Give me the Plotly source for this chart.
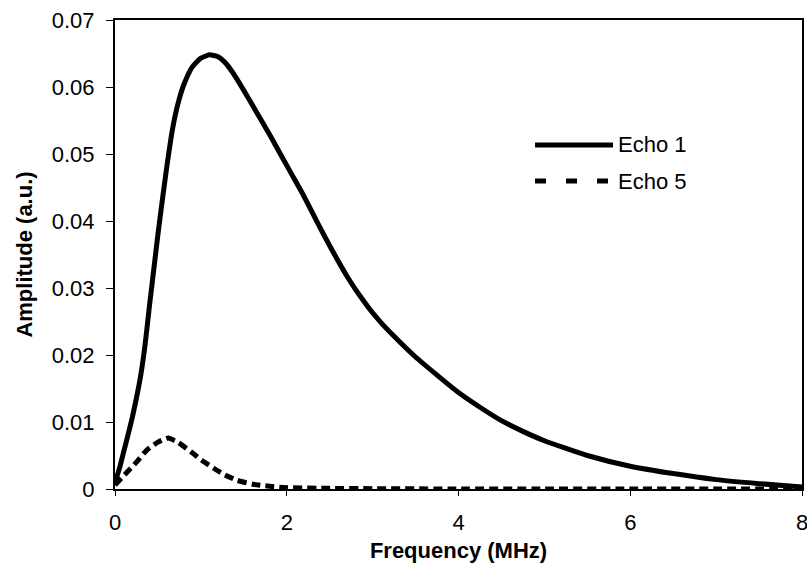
import plotly.graph_objects as go

# Echo 1 (solid)
freq1 = [0, 0.05, 0.1, 0.15, 0.2, 0.25, 0.3, 0.35, 0.4, 0.45, 0.5, 0.55, 0.6, 0.65, 0.7,
         0.75, 0.8, 0.9, 1.0, 1.1, 1.2, 1.3, 1.4, 1.5, 1.6, 1.7, 1.8, 1.9, 2.0, 2.1, 2.2,
         2.3, 2.4, 2.5, 2.6, 2.7, 2.8, 2.9, 3.0, 3.1, 3.25, 3.5, 3.75, 4.0, 4.25, 4.5,
         4.75, 5.0, 5.5, 6.0, 6.5, 7.0, 7.5, 8.0]
echo1 = [0.0010, 0.0030, 0.0055, 0.0080, 0.0106, 0.0136, 0.0170, 0.0215, 0.0272, 0.0326,
         0.0380, 0.0430, 0.0478, 0.0522, 0.0557, 0.0583, 0.0603, 0.0630, 0.0643, 0.0648,
         0.0645, 0.0634, 0.0616, 0.0595, 0.0573, 0.0551, 0.0529, 0.0506, 0.0483, 0.0460,
         0.0437, 0.0412, 0.0387, 0.0363, 0.0340, 0.0318, 0.0298, 0.0280, 0.0263, 0.0248,
         0.0228, 0.0197, 0.0170, 0.0144, 0.0122, 0.0102, 0.0086, 0.0072, 0.0050, 0.0034,
         0.0023, 0.0014, 0.0008, 0.0003]

# Echo 5 (dashed)
freq5 = [0, 0.14, 0.25, 0.37, 0.5, 0.62, 0.74, 0.9, 1.01, 1.15, 1.28, 1.42, 1.61, 1.8,
         2.0, 2.5, 3.0, 4.0, 5.0, 6.0, 7.0, 8.0]
echo5 = [0.0006, 0.0025, 0.0040, 0.0058, 0.0070, 0.0076, 0.0069, 0.0054, 0.0043, 0.0031,
         0.0021, 0.0013, 0.0007, 0.0004, 0.0002, 0.0001, 0.00005, 0.0, 0.0, 0.0, 0.0, 0.0]

x_ticks = [0, 2, 4, 6, 8]
y_ticks = [0, 0.01, 0.02, 0.03, 0.04, 0.05, 0.06, 0.07]
y_tick_labels = ["0", "0.01", "0.02", "0.03", "0.04", "0.05", "0.06", "0.07"]
series_names = ["Echo 1", "Echo 5"]

FONT = "Liberation Sans, Arial, sans-serif"

fig = go.Figure()
fig.add_trace(go.Scatter(x=freq1, y=echo1, mode="lines", name=series_names[0],
                         line=dict(color="black", width=5, shape="spline", smoothing=0.5),
                         showlegend=False))
fig.add_trace(go.Scatter(x=freq5, y=echo5, mode="lines", name=series_names[1],
                         line=dict(color="black", width=5, dash="9px,5px", shape="spline", smoothing=0.5),
                         showlegend=False))

# Manual legend (long line samples like the original)
lx0, lx1 = 0.6114, 0.7249
ly = [0.7335, 0.6567]
fig.add_shape(type="line", xref="paper", yref="paper", x0=lx0, x1=lx1, y0=ly[0], y1=ly[0],
              line=dict(color="black", width=5))
fig.add_shape(type="line", xref="paper", yref="paper", x0=lx0, x1=lx1, y0=ly[1], y1=ly[1],
              line=dict(color="black", width=5, dash="11px,20px"))
for name, yy in zip(series_names, ly):
    fig.add_annotation(xref="paper", yref="paper", x=0.7290, y=yy, text=name,
                       showarrow=False, xanchor="left", yanchor="middle",
                       font=dict(family=FONT, size=22, color="black"))

fig.update_layout(
    width=807, height=580,
    margin=dict(l=115, r=5, t=20, b=91),
    paper_bgcolor="white", plot_bgcolor="white",
    showlegend=False,
    font=dict(family=FONT, size=22, color="black"),
)
fig.update_xaxes(range=[0, 8], tickvals=x_ticks, ticktext=[str(v) for v in x_ticks],
                 showgrid=False, zeroline=False, showline=True, linecolor="black", linewidth=2,
                 mirror=True, ticks="outside", ticklen=5, tickwidth=1, tickcolor="black",
                 ticklabelstandoff=8, ticklabeloverflow="allow", automargin=False,
                 title=dict(text="<b>Frequency (MHz)</b>", font=dict(family=FONT, size=22), standoff=8))
fig.update_yaxes(range=[0, 0.07], tickvals=y_ticks, ticktext=y_tick_labels,
                 showgrid=False, zeroline=False, showline=True, linecolor="black", linewidth=2,
                 mirror=True, ticks="outside", ticklen=7, tickwidth=1, tickcolor="black",
                 ticklabelstandoff=7, automargin=False,
                 title=dict(text="<b>Amplitude (a.u.)</b>", font=dict(family=FONT, size=22), standoff=13))

fig.write_html("out.html", config={"displayModeBar": False},
               post_script="document.body.style.margin='0';document.body.style.overflow='hidden';")
